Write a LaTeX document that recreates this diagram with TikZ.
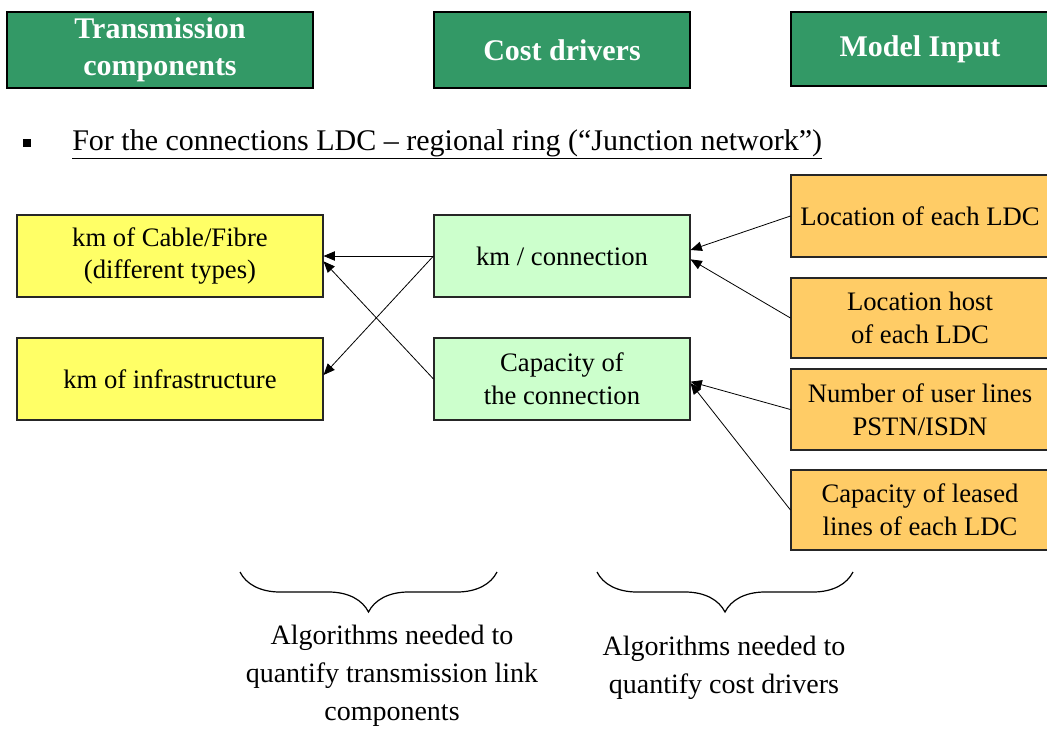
\documentclass[tikz,border=0pt]{standalone}
\usepackage{fontspec}
\setmainfont{Liberation Serif}
\usetikzlibrary{arrows.meta,decorations.pathreplacing}

\definecolor{headgreen}{HTML}{339966}
\definecolor{compyellow}{HTML}{FFFF66}
\definecolor{drivergreen}{HTML}{CCFFCC}
\definecolor{inputorange}{HTML}{FFCC66}

\tikzset{
  head/.style={draw=black, line width=1pt, fill=headgreen, text=white,
    font=\fontsize{22.5}{27.5}\selectfont\bfseries, align=center,
    inner sep=0pt, minimum height=57pt},
  box/.style={draw=black!85, line width=0.8pt, align=center, inner sep=0pt,
    font=\fontsize{20}{24.5}\selectfont, minimum height=61.5pt},
  comp/.style={box, fill=compyellow, minimum width=229.5pt},
  driver/.style={box, fill=drivergreen, minimum width=192pt},
  input/.style={box, fill=inputorange, minimum width=193.5pt},
  link/.style={-{Triangle[length=8.5pt,width=7pt]}, line width=0.6pt},
  curly/.style={decorate, decoration={brace, mirror, amplitude=30pt}, line width=0.9pt},
  note/.style={align=center, font=\fontsize{21}{28.5}\selectfont}
}

\begin{document}
\begin{tikzpicture}[x=0.75pt, y=-0.75pt]
\useasboundingbox (0,0) rectangle (1047,729);

% column headings
\node[head, minimum width=229.5pt] (h1) at (160,50) {Transmission\\components};
\node[head, minimum width=192pt]   (h2) at (562,50) {Cost drivers};
\node[head, minimum width=193.5pt, minimum height=55.5pt] (h3) at (920,49) {Model Input};

% bullet line
\node[fill=black, inner sep=0pt, minimum size=6pt] (bul) at (27,143) {};
\node[anchor=base west, inner sep=0pt, font=\fontsize{22.5}{27}\selectfont] (title) at (72,150)
  {\underline{For the connections LDC – regional ring (“Junction network”)}};

% transmission components
\node[comp] (cable) at (170,256) {km of Cable/Fibre\\(different types)};
\node[comp] (infra) at (170,379) {km of infrastructure};

% cost drivers
\node[driver] (kmconn) at (562,256) {km / connection};
\node[driver] (capconn) at (562,379) {Capacity of\\the connection};

% model inputs
\node[input] (locldc)  at (920,216) {Location of each LDC};
\node[input, minimum height=60pt] (lochost) at (920,318) {Location host\\of each LDC};
\node[input, minimum height=60.75pt] (users) at (920,409.5) {Number of user lines\\PSTN/ISDN};
\node[input, minimum height=60pt] (leased) at (920,510) {Capacity of leased\\lines of each LDC};

% drivers to components
\draw[link] (kmconn.west) -- (cable.east);
\draw[link] (kmconn.west) -- ([yshift=3pt]infra.east);
\draw[link] (capconn.west) -- ([yshift=-4pt]cable.east);

% inputs to drivers
\draw[link] (locldc.west)  -- ([yshift=4.5pt]kmconn.east);
\draw[link] (lochost.west) -- ([yshift=-2.5pt]kmconn.east);
\draw[link] (users.west)   -- ([yshift=-2pt]capconn.east);
\draw[link] (leased.west)  -- ([yshift=-3pt]capconn.east);

% algorithm braces
\draw[curly] (240,572) -- (497,572);
\draw[curly] (597,572) -- (853,572);

\node[note] (algo1) at (392,676) {Algorithms needed to\\quantify transmission link\\components};
\node[note] (algo2) at (724,668) {Algorithms needed to\\quantify cost drivers};
\end{tikzpicture}
\end{document}
